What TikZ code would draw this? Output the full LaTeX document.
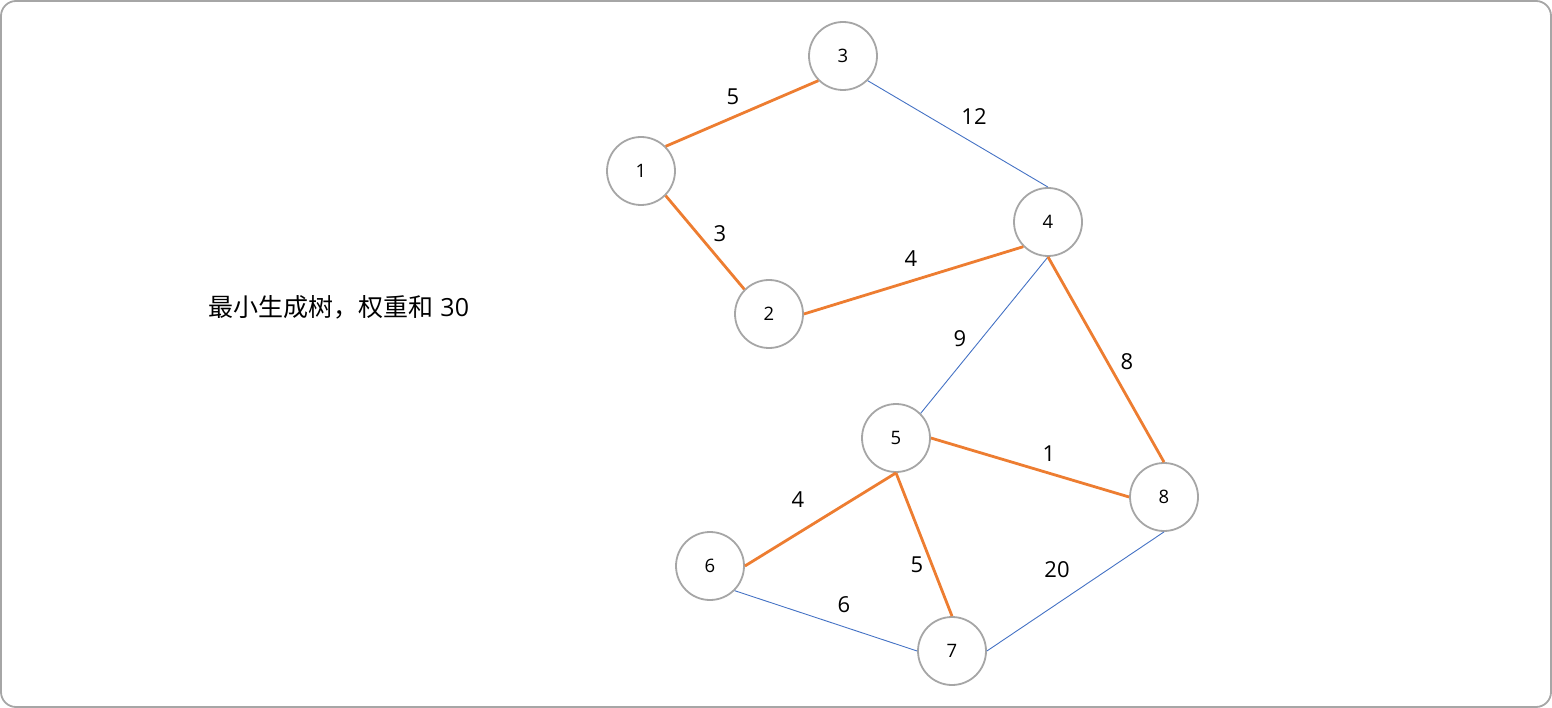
\documentclass[tikz,border=0pt]{standalone}
\usepackage{fontspec}
\setmainfont{Open Sans}
\newfontfamily\cjk{Noto Sans CJK SC}
\definecolor{orng}{HTML}{ED7D31}
\definecolor{blu}{HTML}{4472C4}
\definecolor{gry}{HTML}{A6A6A6}
\begin{document}
\begin{tikzpicture}[x=1pt,y=-1pt,
  vtx/.style={circle,draw=gry,line width=1.8pt,minimum size=68pt,inner sep=0pt,fill=white,font=\fontsize{18.5}{22}\selectfont},
  tree/.style={draw=orng,line width=2.8pt},
  other/.style={draw=blu,line width=0.9pt},
  wlab/.style={font=\fontsize{22}{26}\selectfont,inner sep=0pt}]
\useasboundingbox (0,0) rectangle (1552,708);
\draw[gry,line width=1.8pt,rounded corners=15pt] (1,1) rectangle (1551,707);
\node[vtx] (n1) at (641,171) {1};
\node[vtx] (n2) at (769,314) {2};
\node[vtx] (n3) at (843,56) {3};
\node[vtx] (n4) at (1048,222) {4};
\node[vtx] (n5) at (896,438) {5};
\node[vtx] (n6) at (710,566) {6};
\node[vtx] (n7) at (952,651) {7};
\node[vtx] (n8) at (1164,497) {8};
\draw[tree] (n1.north east) -- (n3.south west);
\draw[tree] (n1.south east) -- (n2.north west);
\draw[other] (n3.south east) -- (n4.north);
\draw[tree] (n2.east) -- (n4.south west);
\draw[other] (n4.south) -- (n5.north east);
\draw[tree] (n4.south) -- (n8.north);
\draw[tree] (n5.east) -- (n8.west);
\draw[tree] (n5.south) -- (n6.east);
\draw[tree] (n5.south) -- (n7.north);
\draw[other] (n6.south east) -- (n7.west);
\draw[other] (n8.south) -- (n7.east);
\node[wlab] (w13) at (733,97) {5};
\node[wlab] (w34) at (974,117) {12};
\node[wlab] (w12) at (720,234) {3};
\node[wlab] (w24) at (911,259) {4};
\node[wlab] (w45) at (960,339) {9};
\node[wlab] (w48) at (1127,362) {8};
\node[wlab] (w58) at (1049,454) {1};
\node[wlab] (w56) at (798,500) {4};
\node[wlab] (w57) at (917,565) {5};
\node[wlab] (w87) at (1057,570) {20};
\node[wlab] (w67) at (844,605) {6};
\node[font=\fontsize{25}{30}\selectfont,inner sep=0pt] (cap) at (339,307) {{\cjk 最小生成树，权重和} 30};
\end{tikzpicture}
\end{document}
